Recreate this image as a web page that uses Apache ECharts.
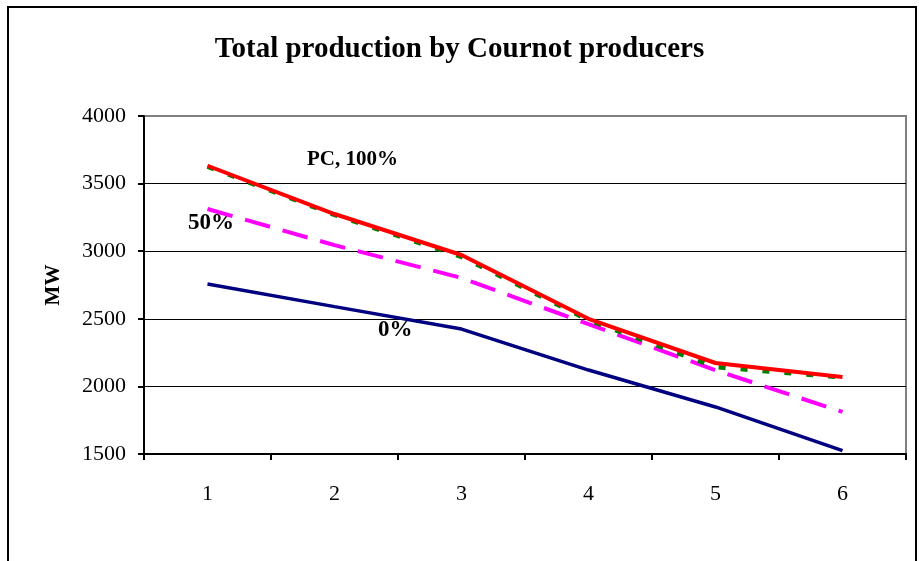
<!DOCTYPE html>
<html>
<head>
<meta charset="utf-8">
<style>
  html, body { margin: 0; padding: 0; background: #fff; }
  #chart { width: 919px; height: 561px; }
</style>
<script src="https://cdn.jsdelivr.net/npm/echarts@6/dist/echarts.min.js"></script>
</head>
<body>
<div id="chart"></div>
<script>
// chart data
const periods = ["1", "2", "3", "4", "5", "6"];
const share0 = [2757, 2590, 2424, 2121, 1848, 1525];
const share50 = [3312, 3045, 2802, 2460, 2120, 1811];
const pc = [3625, 3268, 2958, 2490, 2143, 2066];
const share100 = [3632, 3275, 2972, 2500, 2173, 2070];
const yTicks = [1500, 2000, 2500, 3000, 3500, 4000];

const serif = "'Liberation Serif', 'DejaVu Serif', serif";

const chart = echarts.init(document.getElementById("chart"));

chart.setOption({
  animation: false,
  backgroundColor: "#fff",
  title: {
    text: "Total production by Cournot producers",
    left: "center",
    top: 30,
    textStyle: {
      fontFamily: serif,
      fontWeight: "bold",
      fontSize: 29,
      color: "#000"
    }
  },
  grid: {
    left: 144,
    right: 13,
    top: 116,
    bottom: 107,
    show: true,
    borderColor: "#808080",
    borderWidth: 2
  },
  xAxis: {
    type: "category",
    data: periods,
    boundaryGap: true,
    axisLine: { lineStyle: { color: "#000", width: 2 } },
    axisTick: { show: true, length: 6, lineStyle: { color: "#000", width: 2 } },
    axisLabel: {
      fontFamily: serif,
      fontSize: 22,
      color: "#000",
      margin: 29
    },
    splitLine: { show: false }
  },
  yAxis: {
    type: "value",
    min: yTicks[0],
    max: yTicks[yTicks.length - 1],
    interval: 500,
    name: "MW",
    nameLocation: "middle",
    nameGap: 80,
    nameRotate: 90,
    nameTextStyle: {
      fontFamily: serif,
      fontWeight: "bold",
      fontSize: 21,
      color: "#000"
    },
    axisLine: { show: true, lineStyle: { color: "#000", width: 2 } },
    axisTick: { show: true, length: 6, lineStyle: { color: "#000", width: 2 } },
    axisLabel: {
      fontFamily: serif,
      fontSize: 22,
      color: "#000",
      margin: 18,
      padding: [8, 0, 0, 0],
      formatter: v => String(v)
    },
    splitLine: {
      show: true,
      showMaxLine: false,
      lineStyle: { color: "#000", width: 1 }
    }
  },
  graphic: [
    {
      type: "rect",
      shape: { x: 8, y: 7, width: 908, height: 620 },
      style: { fill: null, stroke: "#000", lineWidth: 2 },
      silent: true,
      z: 100
    },
    {
      type: "text",
      left: 307, top: 149,
      style: { text: "PC, 100%", font: "bold 21px " + serif, fill: "#000" }
    },
    {
      type: "text",
      left: 188, top: 212,
      style: { text: "50%", font: "bold 23px " + serif, fill: "#000" }
    },
    {
      type: "text",
      left: 378, top: 319,
      style: { text: "0%", font: "bold 23px " + serif, fill: "#000" }
    }
  ],
  series: [
    {
      name: "0%",
      type: "line",
      data: share0,
      symbol: "none",
      lineStyle: { color: "#000080", width: 3.5 },
      z: 2
    },
    {
      name: "50%",
      type: "line",
      data: share50,
      symbol: "none",
      lineStyle: { color: "#FF00FF", width: 4, type: [26, 13] },
      z: 3
    },
    {
      name: "PC",
      type: "line",
      data: pc,
      symbol: "none",
      lineStyle: { color: "#008000", width: 4.5, type: [7, 15] },
      z: 4
    },
    {
      name: "100%",
      type: "line",
      data: share100,
      symbol: "none",
      lineStyle: { color: "#FF0000", width: 4 },
      z: 5
    }
  ]
});
</script>
</body>
</html>
